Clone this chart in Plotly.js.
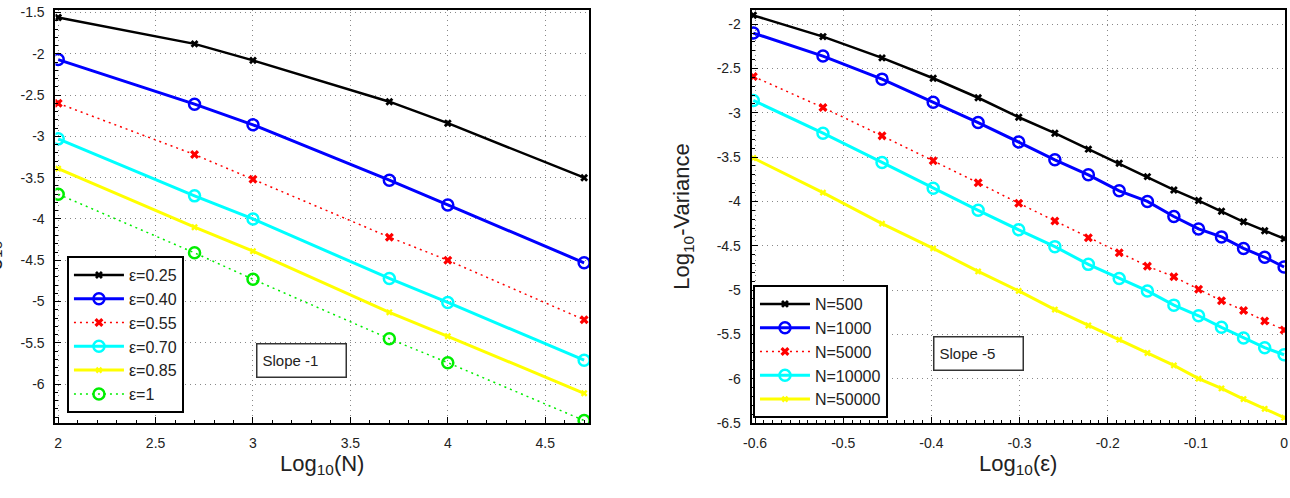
<!DOCTYPE html>
<html>
<head>
<meta charset="utf-8">
<script src="https://cdn.plot.ly/plotly-3.0.1.min.js"></script>
<style>html,body{margin:0;padding:0;background:#fff;}#chart{width:1290px;height:498px;}</style>
</head>
<body>
<div id="chart"></div>
<script>
// ---- Left panel data: x = Log10(N) ----
const logN = [2, 2.7, 3, 3.7, 4, 4.7];
const eps025 = [-1.56, -1.88, -2.08, -2.58, -2.84, -3.50];
const eps040 = [-2.07, -2.61, -2.86, -3.53, -3.83, -4.53];
const eps055 = [-2.60, -3.22, -3.52, -4.22, -4.50, -5.22];
const eps070 = [-3.03, -3.72, -4.00, -4.72, -5.01, -5.71];
const eps085 = [-3.39, -4.10, -4.39, -5.13, -5.42, -6.11];
const eps100 = [-3.70, -4.41, -4.73, -5.45, -5.74, -6.44];
const leftNames = ['ε=0.25', 'ε=0.40', 'ε=0.55', 'ε=0.70', 'ε=0.85', 'ε=1'];

// ---- Right panel data: x = Log10(ε) ----
const logEps = [-0.602, -0.523, -0.456, -0.398, -0.347, -0.301, -0.260, -0.222,
                -0.187, -0.155, -0.125, -0.097, -0.071, -0.046, -0.022, 0];
const n500   = [-1.90, -2.14, -2.38, -2.61, -2.83, -3.05, -3.23, -3.41, -3.57, -3.72, -3.87, -3.99, -4.11, -4.23, -4.33, -4.42];
const n1000  = [-2.10, -2.36, -2.62, -2.88, -3.11, -3.33, -3.53, -3.70, -3.88, -4.00, -4.17, -4.31, -4.40, -4.53, -4.63, -4.74];
const n5000  = [-2.59, -2.94, -3.26, -3.54, -3.79, -4.02, -4.22, -4.41, -4.58, -4.73, -4.85, -4.99, -5.12, -5.23, -5.35, -5.45];
const n10000 = [-2.86, -3.23, -3.56, -3.85, -4.10, -4.32, -4.51, -4.71, -4.87, -5.01, -5.17, -5.29, -5.42, -5.54, -5.65, -5.73];
const n50000 = [-3.51, -3.90, -4.25, -4.53, -4.79, -5.01, -5.22, -5.40, -5.56, -5.71, -5.85, -6.00, -6.11, -6.23, -6.34, -6.44];
const rightNames = ['N=500', 'N=1000', 'N=5000', 'N=10000', 'N=50000'];

// ---- Tick values / labels ----
const leftXTickVals = [2, 2.5, 3, 3.5, 4, 4.5];
const leftXTickText = ['2', '2.5', '3', '3.5', '4', '4.5'];
const leftYTickVals = [-1.5, -2, -2.5, -3, -3.5, -4, -4.5, -5, -5.5, -6];
const leftYTickText = ['-1.5', '-2', '-2.5', '-3', '-3.5', '-4', '-4.5', '-5', '-5.5', '-6'];
const rightXTickVals = [-0.6, -0.5, -0.4, -0.3, -0.2, -0.1, 0];
const rightXTickText = ['-0.6', '-0.5', '-0.4', '-0.3', '-0.2', '-0.1', '0'];
const rightYTickVals = [-2, -2.5, -3, -3.5, -4, -4.5, -5, -5.5, -6, -6.5];
const rightYTickText = ['-2', '-2.5', '-3', '-3.5', '-4', '-4.5', '-5', '-5.5', '-6', '-6.5'];

const FONT = 'Liberation Sans, Arial, Helvetica, sans-serif';

const styles = [
  {line: {color: '#000000', width: 2.5}, marker: {symbol: 'x', size: 7, color: '#000000'}, mode: 'lines+markers'},
  {line: {color: '#0000ff', width: 3}, marker: {symbol: 'circle-open', size: 11, color: '#0000ff', line: {width: 2.5}}, mode: 'lines+markers'},
  {line: {color: '#ff0000', width: 1.5, dash: '2px,4px'}, marker: {symbol: 'x', size: 8, color: '#ff0000'}, mode: 'lines+markers'},
  {line: {color: '#00ffff', width: 3}, marker: {symbol: 'circle-open', size: 11, color: '#00ffff', line: {width: 2.5}}, mode: 'lines+markers'},
  {line: {color: '#ffff00', width: 3}, marker: {symbol: 'x', size: 6, color: '#ffff00'}, mode: 'lines+markers'},
  {line: {color: '#00ee00', width: 1.5, dash: '2px,4px'}, marker: {symbol: 'circle-open', size: 11, color: '#00ee00', line: {width: 2.5}}, mode: 'lines+markers'}
];

const leftSeries = [eps025, eps040, eps055, eps070, eps085, eps100];
const rightSeries = [n500, n1000, n5000, n10000, n50000];

const traces = [];
leftSeries.forEach((ys, i) => {
  traces.push(Object.assign({
    type: 'scatter', x: logN, y: ys, name: leftNames[i],
    xaxis: 'x', yaxis: 'y', legend: 'legend'
  }, JSON.parse(JSON.stringify(styles[i]))));
});
rightSeries.forEach((ys, i) => {
  traces.push(Object.assign({
    type: 'scatter', x: logEps, y: ys, name: rightNames[i],
    xaxis: 'x2', yaxis: 'y2', legend: 'legend2'
  }, JSON.parse(JSON.stringify(styles[i]))));
});

function minorTicks(step) {
  return {tickmode: 'linear', dtick: step, tick0: 0, ticks: 'inside', ticklen: 3, tickwidth: 1, tickcolor: '#000', showgrid: false};
}

function axisBase(extra) {
  return Object.assign({
    showline: true, linecolor: '#000', linewidth: 2, mirror: true,
    ticks: 'inside', ticklen: 6, tickwidth: 1, tickcolor: '#000',
    showgrid: true, gridcolor: '#888', gridwidth: 1, griddash: '1px,4px',
    zeroline: false, automargin: false, tickmode: 'array',
    tickfont: {family: FONT, size: 14, color: '#222'},
    ticklabelstandoff: 6,
    fixedrange: true
  }, extra);
}

const yDomain = [0.1506, 0.9799];
const layout = {
  width: 1290, height: 498,
  margin: {l: 0, r: 0, t: 0, b: 0},
  paper_bgcolor: '#fff', plot_bgcolor: '#fff',
  font: {family: FONT, color: '#222'},
  showlegend: true,
  xaxis: axisBase({
    domain: [0.0430, 0.4566], range: [1.986, 4.725], anchor: 'y',
    tickvals: leftXTickVals, ticktext: leftXTickText,
    minor: minorTicks(0.1),
    title: {text: 'Log<sub>10</sub>(N)', font: {family: FONT, size: 22, color: '#222'}, standoff: 3}
  }),
  yaxis: axisBase({
    domain: yDomain, range: [-6.47, -1.47], anchor: 'x',
    tickvals: leftYTickVals, ticktext: leftYTickText,
    minor: minorTicks(0.1)
  }),
  xaxis2: axisBase({
    domain: [0.5826, 0.9961], range: [-0.604, 0.001], anchor: 'y2',
    tickvals: rightXTickVals, ticktext: rightXTickText,
    minor: minorTicks(0.01),
    title: {text: 'Log<sub>10</sub>(ε)', font: {family: FONT, size: 22, color: '#222'}, standoff: 3}
  }),
  yaxis2: axisBase({
    domain: yDomain, range: [-6.5, -1.84], anchor: 'x2',
    tickvals: rightYTickVals, ticktext: rightYTickText,
    minor: minorTicks(0.1),
    title: {text: 'Log<sub>10</sub>-Variance', font: {family: FONT, size: 22, color: '#222'}, standoff: 21}
  }),
  legend: {
    x: 0.0519, y: 0.4859, xanchor: 'left', yanchor: 'top',
    bgcolor: '#fff', bordercolor: '#000', borderwidth: 2,
    font: {family: FONT, size: 16, color: '#222'}, itemwidth: 50
  },
  legend2: {
    x: 0.5837, y: 0.4277, xanchor: 'left', yanchor: 'top',
    bgcolor: '#fff', bordercolor: '#000', borderwidth: 2,
    font: {family: FONT, size: 16, color: '#222'}, itemwidth: 50
  },
  annotations: [
    // left panel y title: mostly cropped off the left edge in the reference
    {text: 'Log<sub>10</sub>-Variance', xref: 'paper', yref: 'paper', x: -0.0066, y: 0.556,
     xanchor: 'center', yanchor: 'middle', textangle: -90, showarrow: false,
     font: {family: FONT, size: 22, color: '#222'}},
    {text: 'Slope -1', xref: 'x', yref: 'y', x: 3.249, y: -5.711, xanchor: 'center', yanchor: 'middle',
     showarrow: false, font: {family: FONT, size: 15, color: '#222'}, align: 'left',
     width: 78, height: 22, borderpad: 5, bordercolor: '#333', borderwidth: 1.5, bgcolor: '#fff'},
    {text: 'Slope -5', xref: 'x2', yref: 'y2', x: -0.3462, y: -5.718, xanchor: 'center', yanchor: 'middle',
     showarrow: false, font: {family: FONT, size: 15, color: '#222'}, align: 'left',
     width: 78, height: 22, borderpad: 5, bordercolor: '#333', borderwidth: 1.5, bgcolor: '#fff'}
  ]
};

Plotly.newPlot('chart', traces, layout, {staticPlot: true, displayModeBar: false});
</script>
</body>
</html>
